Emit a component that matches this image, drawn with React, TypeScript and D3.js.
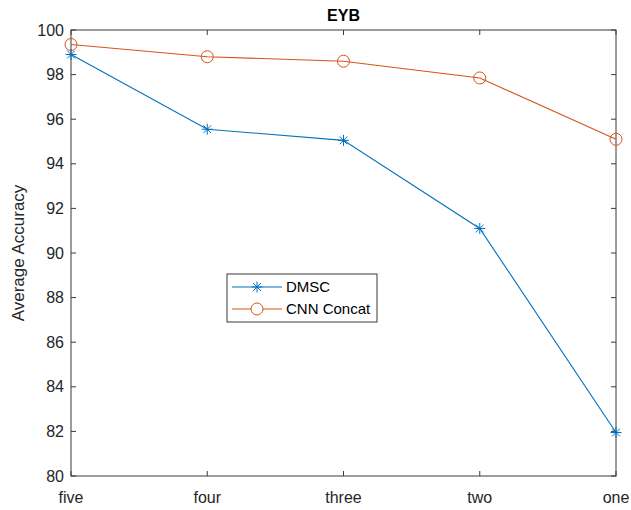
import React from "react";
import * as d3 from "d3";

const categories = ["five", "four", "three", "two", "one"];
const dmsc = [98.9, 95.55, 95.05, 91.1, 81.95];
const cnnConcat = [99.35, 98.8, 98.6, 97.85, 95.1];
const yTicks = [80, 82, 84, 86, 88, 90, 92, 94, 96, 98, 100];

const W = 631, H = 510;
const M = { left: 71, right: 616, top: 30, bottom: 476 };
const BLUE = "#0072BD";
const ORANGE = "#D95319";
const AX = "#3a3a3a";
const FONT = "'Liberation Sans', Arial, Helvetica, sans-serif";

function Star({ x, y, color }: { x: number; y: number; color: string }) {
  const r = 5.5;
  const d = r * 0.707;
  return (
    <g stroke={color} strokeWidth={1}>
      <line x1={x - r} y1={y} x2={x + r} y2={y} />
      <line x1={x} y1={y - r} x2={x} y2={y + r} />
      <line x1={x - d} y1={y - d} x2={x + d} y2={y + d} />
      <line x1={x - d} y1={y + d} x2={x + d} y2={y - d} />
    </g>
  );
}

export default function App() {
  const x = d3.scalePoint<string>().domain(categories).range([M.left, M.right]);
  const y = d3.scaleLinear().domain([80, 100]).range([M.bottom, M.top]);
  const line = d3
    .line<number>()
    .x((_, i) => x(categories[i])!)
    .y((v) => y(v));

  const lx0 = 227, ly0 = 274, lw = 150, lh = 48;

  return (
    <svg width={W} height={H} style={{ position: "absolute", left: 0, top: 0, background: "#fff" }} fontFamily={FONT}>
      <rect x={0} y={0} width={W} height={H} fill="#fff" />
      <text x={(M.left + M.right) / 2} y={21} textAnchor="middle" fontSize={16} fontWeight="bold" fill="#000">
        EYB
      </text>
      {/* axes box */}
      <rect x={M.left} y={M.top} width={M.right - M.left} height={M.bottom - M.top} fill="none" stroke={AX} strokeWidth={1} />
      {/* y ticks */}
      {yTicks.map((t) => (
        <g key={t}>
          <line x1={M.left} x2={M.left + 5} y1={y(t)} y2={y(t)} stroke={AX} />
          <line x1={M.right} x2={M.right - 5} y1={y(t)} y2={y(t)} stroke={AX} />
          <text x={M.left - 7} y={y(t)} dy="0.35em" textAnchor="end" fontSize={16} fill="#262626">
            {t}
          </text>
        </g>
      ))}
      {/* x ticks */}
      {categories.map((c) => (
        <g key={c}>
          <line x1={x(c)} x2={x(c)} y1={M.bottom} y2={M.bottom - 5} stroke={AX} />
          <line x1={x(c)} x2={x(c)} y1={M.top} y2={M.top + 5} stroke={AX} />
          <text x={x(c)} y={503} textAnchor="middle" fontSize={16} fill="#262626">
            {c}
          </text>
        </g>
      ))}
      <text
        transform={`translate(24,${(M.top + M.bottom) / 2}) rotate(-90)`}
        textAnchor="middle"
        fontSize={17}
        fill="#262626"
      >
        Average Accuracy
      </text>
      {/* series */}
      <path d={line(cnnConcat)!} fill="none" stroke={ORANGE} strokeWidth={1.1} />
      <path d={line(dmsc)!} fill="none" stroke={BLUE} strokeWidth={1.1} />
      {cnnConcat.map((v, i) => (
        <circle key={i} cx={x(categories[i])} cy={y(v)} r={6} fill="none" stroke={ORANGE} strokeWidth={1} />
      ))}
      {dmsc.map((v, i) => (
        <Star key={i} x={x(categories[i])!} y={y(v)} color={BLUE} />
      ))}
      {/* legend */}
      <rect x={lx0} y={ly0} width={lw} height={lh} fill="#fff" stroke={AX} strokeWidth={1} />
      <line x1={232} x2={282} y1={287} y2={287} stroke={BLUE} strokeWidth={1.1} />
      <Star x={257} y={287} color={BLUE} />
      <text x={286} y={287} dy="0.35em" fontSize={15} fill="#000">DMSC</text>
      <line x1={232} x2={282} y1={309} y2={309} stroke={ORANGE} strokeWidth={1.1} />
      <circle cx={257} cy={309} r={6} fill="#fff" stroke={ORANGE} strokeWidth={1} />
      <text x={286} y={309} dy="0.35em" fontSize={15} fill="#000">CNN Concat</text>
    </svg>
  );
}
